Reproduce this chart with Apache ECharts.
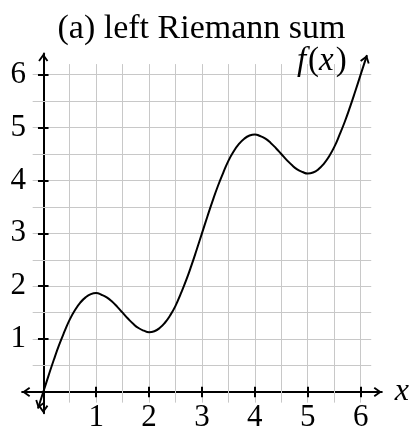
<!DOCTYPE html>
<html>
<head>
<meta charset="utf-8">
<script src="https://cdn.jsdelivr.net/npm/echarts@6/dist/echarts.min.js"></script>
<style>
  html, body { margin: 0; padding: 0; background: #fff; }
  #chart { width: 410px; height: 430px; }
</style>
</head>
<body>
<div id="chart"></div>
<script>
  // curve f(x)
  var xs = [-0.1, 0, 0.1, 0.2, 0.3, 0.4, 0.5, 0.6, 0.7, 0.8, 0.9,
            1, 1.1, 1.2, 1.3, 1.4, 1.5, 1.6, 1.7, 1.8, 1.9,
            2, 2.1, 2.2, 2.3, 2.4, 2.5, 2.6, 2.7, 2.8, 2.9,
            3, 3.1, 3.2, 3.3, 3.4, 3.5, 3.6, 3.7, 3.8, 3.9,
            4, 4.1, 4.2, 4.3, 4.4, 4.5, 4.6, 4.7, 4.8, 4.9,
            5, 5.1, 5.2, 5.3, 5.4, 5.5, 5.6, 5.7, 5.8, 5.9,
            6, 6.12];
  var fx = [-0.31, 0, 0.31, 0.61, 0.89, 1.14, 1.37, 1.55, 1.69, 1.79, 1.85,
            1.87, 1.84, 1.79, 1.71, 1.61, 1.5, 1.39, 1.29, 1.21, 1.16,
            1.13, 1.15, 1.21, 1.31, 1.45, 1.63, 1.86, 2.11, 2.39, 2.69,
            3, 3.31, 3.61, 3.89, 4.14, 4.37, 4.55, 4.69, 4.79, 4.85,
            4.87, 4.84, 4.79, 4.71, 4.61, 4.5, 4.39, 4.29, 4.21, 4.16,
            4.13, 4.15, 4.21, 4.31, 4.45, 4.63, 4.86, 5.11, 5.39, 5.69,
            6, 6.37];
  var tickValues = [1, 2, 3, 4, 5, 6];
  var gridValues = [0.5, 1, 1.5, 2, 2.5, 3, 3.5, 4, 4.5, 5, 5.5, 6];
  var gridFrom = -0.2, gridTo = 6.2;
  var tickHalf = 0.1;

  var FONT = "'Liberation Serif', 'DejaVu Serif', serif";
  // open chevron pointing up, tip in the middle of its box
  var ARROW = 'path://M5 0 L10 7 L8.5 8.1 L5 3.2 L1.5 8.1 L0 7 Z M5 -8.1 L5 -8.1 Z';

  var curve = xs.map(function (x, i) { return [x, fx[i]]; });

  var gridLines = [];
  gridValues.forEach(function (v) {
    gridLines.push({ coords: [[v, gridFrom], [v, gridTo]] });
    gridLines.push({ coords: [[gridFrom, v], [gridTo, v]] });
  });
  var tickLines = [];
  tickValues.forEach(function (v) {
    tickLines.push({ coords: [[v, -tickHalf], [v, tickHalf]] });
    tickLines.push({ coords: [[-tickHalf, v], [tickHalf, v]] });
  });

  // arrow heads follow the direction of the last segment at each end
  function dirAngle(a, b) {
    return Math.atan2(b[1] - a[1], b[0] - a[0]) * 180 / Math.PI - 90;
  }
  var n = curve.length;
  var arrowData = [
    { value: curve[n - 1], symbolRotate: dirAngle(curve[n - 2], curve[n - 1]),
      label: { show: true } },
    { value: curve[0], symbolRotate: dirAngle(curve[1], curve[0]) }
  ];

  var chart = echarts.init(document.getElementById('chart'), null, { renderer: 'canvas' });
  chart.setOption({
    animation: false,
    backgroundColor: '#ffffff',
    title: {
      text: '(a) left Riemann sum',
      left: 201.5,
      top: 12,
      padding: 0,
      textAlign: 'center',
      textStyle: { fontFamily: FONT, fontWeight: 'normal', fontSize: 34, color: '#000' }
    },
    grid: { left: 22.1, top: 53.5, width: 359.7, height: 359.7, outerBoundsMode: 'none' },
    xAxis: {
      type: 'value', min: -0.4, max: 6.4,
      name: 'x', nameLocation: 'end', nameGap: 13,
      nameTextStyle: { fontFamily: FONT, fontStyle: 'italic', fontSize: 32, color: '#000' },
      axisLine: { onZero: true, symbol: [ARROW, ARROW], symbolSize: [10, 16.2],
        lineStyle: { color: '#000', width: 2 } },
      axisTick: { show: false },
      splitLine: { show: false },
      axisLabel: { customValues: tickValues, margin: -11,
        fontFamily: FONT, fontSize: 31, color: '#000' }
    },
    yAxis: {
      type: 'value', min: -0.4, max: 6.4,
      axisLine: { onZero: true, symbol: [ARROW, ARROW], symbolSize: [10, 16.2],
        lineStyle: { color: '#000', width: 2 } },
      axisTick: { show: false },
      splitLine: { show: false },
      axisLabel: { customValues: tickValues, margin: -4,
        fontFamily: FONT, fontSize: 31, color: '#000' }
    },
    series: [
      {
        type: 'lines', coordinateSystem: 'cartesian2d', z: 1, silent: true,
        data: gridLines,
        lineStyle: { color: '#c8c8c8', width: 1, opacity: 1 }
      },
      {
        type: 'lines', coordinateSystem: 'cartesian2d', z: 3, silent: true,
        data: tickLines,
        lineStyle: { color: '#000', width: 2, opacity: 1 }
      },
      {
        name: 'f(x)', type: 'line', z: 4, smooth: true, showSymbol: false,
        data: curve,
        lineStyle: { color: '#000', width: 2 }
      },
      {
        type: 'scatter', z: 5, silent: true,
        symbol: ARROW, symbolSize: [10, 16.2],
        itemStyle: { color: '#000', opacity: 1 },
        data: arrowData,
        label: {
          show: false, position: 'left', distance: 13, offset: [0, 6],
          color: '#000', opacity: 1,
          formatter: '{i|f}{u|(}{i|x}{u|)}',
          rich: {
            i: { fontFamily: FONT, fontStyle: 'italic', fontSize: 33, color: '#000', padding: [0, 2, 0, 0] },
            u: { fontFamily: FONT, fontSize: 33, color: '#000' }
          }
        }
      }
    ]
  });
</script>
</body>
</html>
